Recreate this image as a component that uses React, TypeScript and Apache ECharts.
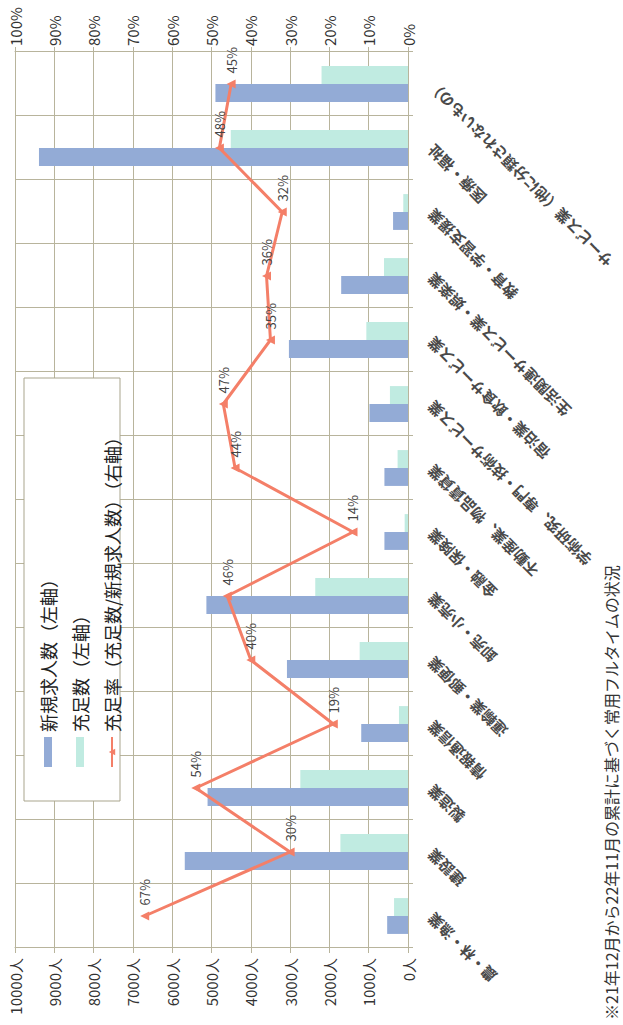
import React, { useEffect, useRef } from "react";
import * as echarts from "echarts";

// Industry categories (left to right on the category axis)
const categories = [
  "農・林・漁業",
  "建設業",
  "製造業",
  "情報通信業",
  "運輸業・郵便業",
  "卸売・小売業",
  "金融・保険業",
  "不動産業、物品賃貸業",
  "学術研究、専門・技術サービス業",
  "宿泊業・飲食サービス業",
  "生活関連サービス業・娯楽業",
  "教育・学習支援業",
  "医療・福祉",
  "サービス業（他に分類されないもの）",
];

// New job openings (persons, left axis)
const newOpenings = [530, 5680, 5100, 1190, 3080, 5130, 600, 600, 980, 3030, 1700, 380, 9390, 4900];
// Filled positions (persons, left axis)
const filledCounts = [355, 1720, 2740, 230, 1230, 2360, 85, 265, 460, 1060, 610, 120, 4510, 2200];
// Fill rate = filled / new openings (%, right axis)
const fillRate = [67, 30, 54, 19, 40, 46, 14, 44, 47, 35, 36, 32, 48, 45];

const seriesNames = [
  "新規求人数（左軸）",
  "充足数（左軸）",
  "充足率（充足数/新規求人数）（右軸）",
];

const footnote = "※21年12月から22年11月の累計に基づく常用フルタイムの状況";

const FONT = "'Noto Sans CJK JP', 'Noto Sans', sans-serif";
const GRID_COLOR = "#b8b49c";

export default function App() {
  const ref = useRef<HTMLDivElement>(null);

  useEffect(() => {
    if (!ref.current) return;
    const chart = echarts.init(ref.current, undefined, { renderer: "svg" });
    chart.setOption({
      animation: false,
      backgroundColor: "#ffffff",
      textStyle: { fontFamily: FONT },
      grid: { left: 77, right: 52, top: 15, bottom: 215, containLabel: false },
      legend: {
        orient: "vertical",
        left: 252,
        top: 32,
        itemWidth: 30,
        itemHeight: 8,
        itemGap: 10,
        z: 6,
        textStyle: { fontFamily: FONT, fontSize: 18, color: "#222", lineHeight: 22 },
        data: [
          { name: seriesNames[0], icon: "rect" },
          { name: seriesNames[1], icon: "rect" },
          { name: seriesNames[2] },
        ],
      },
      graphic: [
        {
          type: "rect",
          z: 5,
          shape: { x: 224, y: 24, width: 423, height: 96 },
          style: { fill: "#ffffff", stroke: "#a9a58d", lineWidth: 1 },
        },
        {
          type: "text",
          left: 5,
          top: 603,
          z: 5,
          style: { text: footnote, font: `16px ${FONT}`, fill: "#333" },
        },
      ],
      xAxis: {
        type: "category",
        data: categories,
        boundaryGap: true,
        axisLine: { show: true, lineStyle: { color: GRID_COLOR } },
        axisTick: { show: true, length: 5, interval: 0, lineStyle: { color: GRID_COLOR } },
        splitLine: { show: true, interval: 0, lineStyle: { color: GRID_COLOR, width: 1 } },
        axisLabel: {
          interval: 0,
          rotate: 45,
          margin: 22,
          fontFamily: FONT,
          fontSize: 15,
          fontWeight: "bold",
          color: "#4a4a4a",
        },
      },
      yAxis: [
        {
          type: "value",
          min: 0,
          max: 10000,
          interval: 1000,
          axisLine: { show: true, lineStyle: { color: GRID_COLOR } },
          axisTick: { show: true, length: 5, lineStyle: { color: GRID_COLOR } },
          splitLine: { show: true, lineStyle: { color: GRID_COLOR, width: 1 } },
          axisLabel: {
            formatter: (v: number) => `${v}人`,
            fontFamily: FONT,
            fontSize: 15,
            color: "#333",
            margin: 10,
          },
        },
        {
          type: "value",
          min: 0,
          max: 100,
          interval: 10,
          position: "right",
          axisLine: { show: true, lineStyle: { color: GRID_COLOR } },
          axisTick: { show: true, length: 5, lineStyle: { color: GRID_COLOR } },
          splitLine: { show: false },
          axisLabel: {
            formatter: (v: number) => `${v}%`,
            fontFamily: FONT,
            fontSize: 15,
            color: "#333",
            margin: 6,
          },
        },
      ],
      series: [
        {
          name: seriesNames[0],
          type: "bar",
          yAxisIndex: 0,
          data: newOpenings,
          barGap: "0%",
          barCategoryGap: "44%",
          itemStyle: { color: "#93abd6" },
        },
        {
          name: seriesNames[1],
          type: "bar",
          yAxisIndex: 0,
          data: filledCounts,
          barGap: "0%",
          barCategoryGap: "44%",
          itemStyle: { color: "#c0ebe1" },
        },
        {
          name: seriesNames[2],
          type: "line",
          yAxisIndex: 1,
          data: fillRate,
          z: 4,
          symbol: "triangle",
          symbolSize: 9,
          lineStyle: { color: "#f47f68", width: 3 },
          itemStyle: { color: "#f47f68" },
          label: {
            show: true,
            position: "right",
            distance: 6,
            formatter: "{c}%",
            fontFamily: FONT,
            fontSize: 13,
            color: "#444",
          },
        },
      ],
    });
    return () => chart.dispose();
  }, []);

  return (
    <div
      style={{
        position: "absolute",
        left: 0,
        top: 0,
        width: 623,
        height: 1025,
        overflow: "hidden",
        background: "#ffffff",
      }}
    >
      <div
        style={{
          position: "absolute",
          left: 0,
          top: 0,
          width: 1025,
          height: 623,
          transformOrigin: "0 0",
          transform: "translateY(1025px) rotate(-90deg)",
        }}
      >
        <div ref={ref} style={{ width: 1025, height: 623 }} />
      </div>
    </div>
  );
}
